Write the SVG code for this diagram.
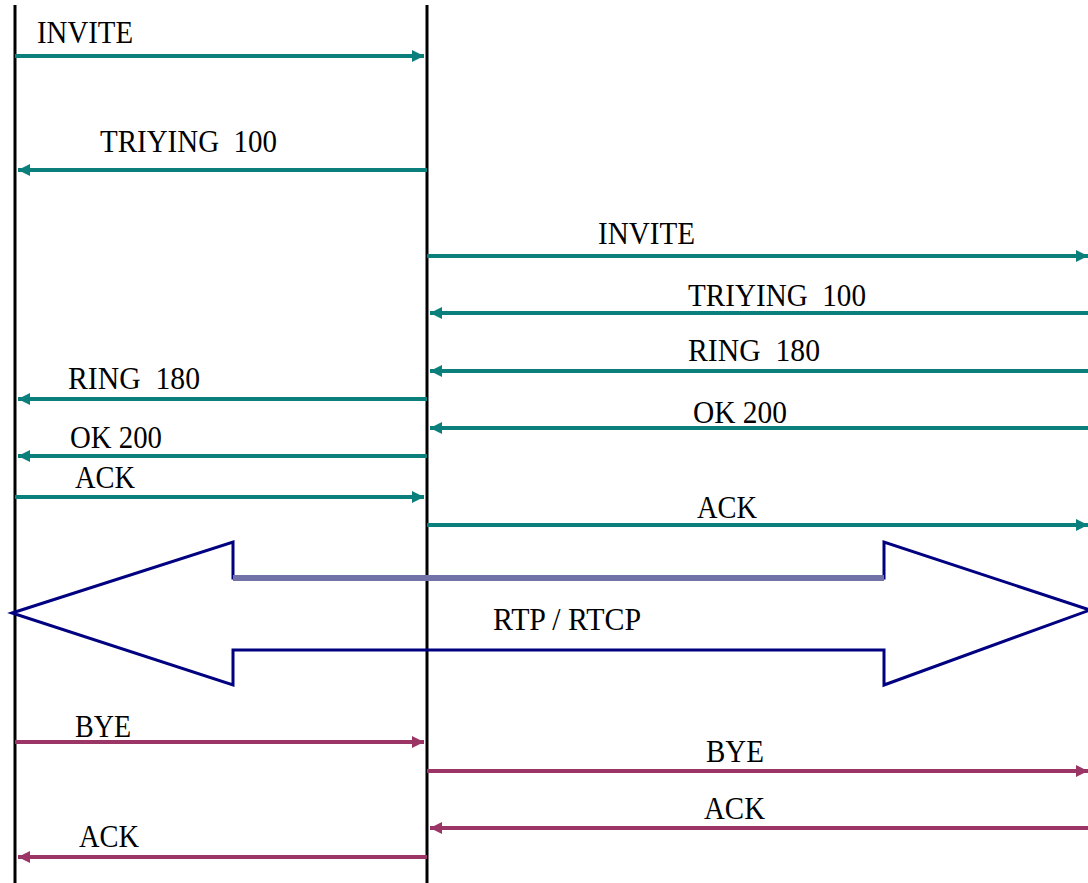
<svg xmlns="http://www.w3.org/2000/svg" width="1088" height="883" viewBox="0 0 1088 883">
<style>
.life{stroke:#000;stroke-width:3;fill:none}
.t{stroke:#0a7f7c;stroke-width:4;fill:none}
.m{stroke:#9a3566;stroke-width:4;fill:none}
.lbl{font-family:"Liberation Serif","Times New Roman",serif;font-size:31px;fill:#000;white-space:pre}
</style>
<defs>
<marker id="at" markerUnits="userSpaceOnUse" markerWidth="14" markerHeight="14" refX="12" refY="7" orient="auto">
<path d="M0,1 L12,7 L0,13 Z" fill="#0a7f7c"/>
</marker>
<marker id="am" markerUnits="userSpaceOnUse" markerWidth="14" markerHeight="14" refX="12" refY="7" orient="auto">
<path d="M0,1 L12,7 L0,13 Z" fill="#9a3566"/>
</marker>
</defs>
<g id="lifelines">
<line class="life" x1="15" y1="5" x2="15" y2="883"/>
<line class="life" x1="427" y1="5" x2="427" y2="883"/>
</g>
<g id="rtp">
<polygon points="12,613 233,542 233,578 884,578 884,542 1090,610 884,685 884,650 233,650 233,685" fill="none" stroke="#000080" stroke-width="3" stroke-linejoin="miter"/>
<line x1="233" y1="578" x2="884" y2="578" stroke="#7272a8" stroke-width="6"/>
<text class="lbl" x="493" y="630" textLength="148" lengthAdjust="spacingAndGlyphs">RTP / RTCP</text>
</g>
<g id="connectors">
<line class="t" x1="15" y1="56" x2="424" y2="56" marker-end="url(#at)"/>
<line class="t" x1="427" y1="170" x2="18" y2="170" marker-end="url(#at)"/>
<line class="t" x1="427" y1="256" x2="1088" y2="256" marker-end="url(#at)"/>
<line class="t" x1="1088" y1="313" x2="430" y2="313" marker-end="url(#at)"/>
<line class="t" x1="1088" y1="371" x2="430" y2="371" marker-end="url(#at)"/>
<line class="t" x1="1088" y1="428" x2="430" y2="428" marker-end="url(#at)"/>
<line class="t" x1="427" y1="399" x2="18" y2="399" marker-end="url(#at)"/>
<line class="t" x1="427" y1="456" x2="18" y2="456" marker-end="url(#at)"/>
<line class="t" x1="15" y1="497" x2="424" y2="497" marker-end="url(#at)"/>
<line class="t" x1="427" y1="525" x2="1088" y2="525" marker-end="url(#at)"/>
<line class="m" x1="15" y1="742" x2="424" y2="742" marker-end="url(#am)"/>
<line class="m" x1="427" y1="771" x2="1088" y2="771" marker-end="url(#am)"/>
<line class="m" x1="1088" y1="828" x2="430" y2="828" marker-end="url(#am)"/>
<line class="m" x1="427" y1="857" x2="18" y2="857" marker-end="url(#am)"/>
</g>
<g id="labels">
<text class="lbl" x="37" y="43" textLength="96" lengthAdjust="spacingAndGlyphs">INVITE</text>
<text class="lbl" x="100" y="152" textLength="177" lengthAdjust="spacingAndGlyphs">TRIYING  100</text>
<text class="lbl" x="598" y="244" textLength="97" lengthAdjust="spacingAndGlyphs">INVITE</text>
<text class="lbl" x="688" y="306" textLength="178" lengthAdjust="spacingAndGlyphs">TRIYING  100</text>
<text class="lbl" x="688" y="361" textLength="132" lengthAdjust="spacingAndGlyphs">RING  180</text>
<text class="lbl" x="693" y="423" textLength="94" lengthAdjust="spacingAndGlyphs">OK 200</text>
<text class="lbl" x="68" y="389" textLength="132" lengthAdjust="spacingAndGlyphs">RING  180</text>
<text class="lbl" x="70" y="448" textLength="92" lengthAdjust="spacingAndGlyphs">OK 200</text>
<text class="lbl" x="75" y="488" textLength="60" lengthAdjust="spacingAndGlyphs">ACK</text>
<text class="lbl" x="697" y="518" textLength="60" lengthAdjust="spacingAndGlyphs">ACK</text>
<text class="lbl" x="75" y="737" textLength="56" lengthAdjust="spacingAndGlyphs">BYE</text>
<text class="lbl" x="706" y="762" textLength="58" lengthAdjust="spacingAndGlyphs">BYE</text>
<text class="lbl" x="704" y="819" textLength="61" lengthAdjust="spacingAndGlyphs">ACK</text>
<text class="lbl" x="79" y="847" textLength="60" lengthAdjust="spacingAndGlyphs">ACK</text>
</g>
</svg>
